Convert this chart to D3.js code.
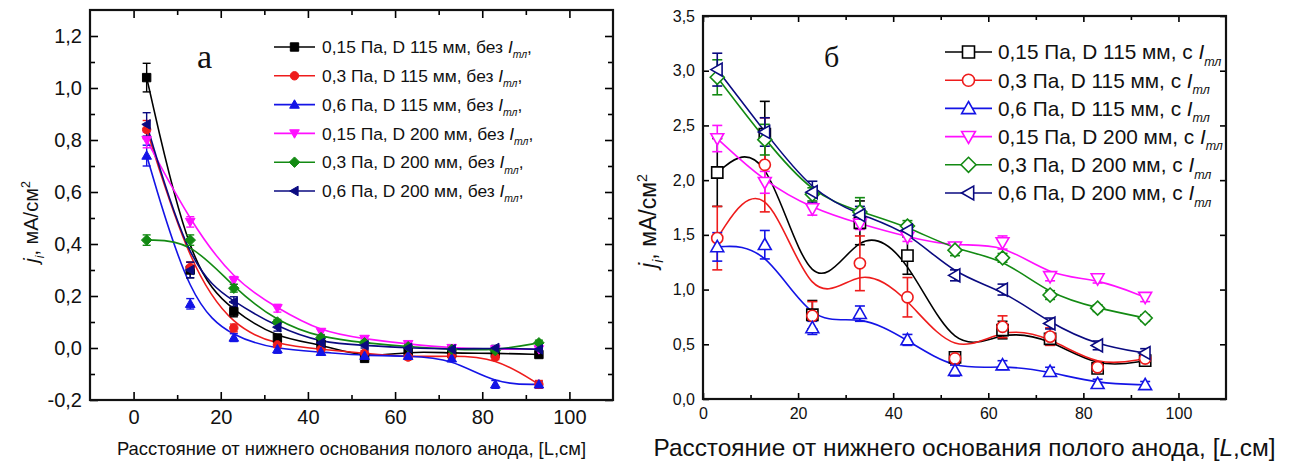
<!DOCTYPE html>
<html><head><meta charset="utf-8">
<script src="https://cdn.jsdelivr.net/npm/d3@7"></script>
<style>
html,body{margin:0;padding:0;background:#fff;}
svg{display:block;font-family:"Liberation Sans",Arial,sans-serif;}
</style></head><body>
<svg id="c" width="1290" height="463"></svg>
<script>
// ---------- DATA ----------
const distance = [3, 13, 23, 33, 43, 53, 63, 73, 83, 93];

// Panel "а" (without I_тл)
const labelsA = ["0,15 Па, D 115 мм, без ", "0,3 Па, D 115 мм, без ", "0,6 Па, D 115 мм, без ",
                 "0,15 Па, D 200 мм, без ", "0,3 Па, D 200 мм, без ", "0,6 Па, D 200 мм, без "];
const a_p015_D115 = [1.04, 0.30, 0.14, 0.038, 0.015, -0.04, -0.012, -0.02, -0.02, -0.025];
const a_p03_D115  = [0.84, 0.31, 0.077, 0.012, -0.005, -0.02, -0.035, -0.03, -0.035, -0.14];
const a_p06_D115  = [0.74, 0.17, 0.04, -0.005, -0.015, -0.03, -0.03, -0.04, -0.14, -0.14];
const a_p015_D200 = [0.80, 0.485, 0.26, 0.153, 0.062, 0.035, 0.015, 0.0, -0.005, -0.005];
const a_p03_D200  = [0.415, 0.415, 0.23, 0.10, 0.04, 0.02, 0.005, -0.005, -0.01, 0.02];
const a_p06_D200  = [0.86, 0.30, 0.177, 0.08, 0.02, 0.01, 0.0, -0.005, 0.0, -0.005];
const aErr_p015_D115 = [0.055, 0.03, 0.02, 0.015, 0.01, 0.01, 0.01, 0.01, 0.01, 0.01];
const aErr_p03_D115  = [0.035, 0.02, 0.015, 0.01, 0.01, 0.01, 0.01, 0.01, 0.01, 0.015];
const aErr_p06_D115  = [0.04, 0.02, 0.015, 0.015, 0.01, 0.01, 0.01, 0.01, 0.015, 0.01];
const aErr_p015_D200 = [0.03, 0.02, 0.015, 0.015, 0.01, 0.01, 0.01, 0.01, 0.01, 0.01];
const aErr_p03_D200  = [0.02, 0.02, 0.015, 0.01, 0.01, 0.01, 0.01, 0.01, 0.01, 0.01];
const aErr_p06_D200  = [0.045, 0.03, 0.02, 0.015, 0.01, 0.01, 0.01, 0.01, 0.01, 0.01];

// Panel "б" (with I_тл)
const labelsB = ["0,15 Па, D 115 мм, с ", "0,3 Па, D 115 мм, с ", "0,6 Па, D 115 мм, с ",
                 "0,15 Па, D 200 мм, с ", "0,3 Па, D 200 мм, с ", "0,6 Па, D 200 мм, с "];
const b_p015_D115 = [2.07, 2.42, 0.77, 1.61, 1.31, 0.38, 0.63, 0.55, 0.28, 0.35];
const b_p03_D115  = [1.47, 2.14, 0.76, 1.24, 0.93, 0.37, 0.66, 0.57, 0.29, 0.37];
const b_p06_D115  = [1.39, 1.41, 0.65, 0.78, 0.54, 0.26, 0.31, 0.25, 0.14, 0.13];
const b_p015_D200 = [2.38, 1.98, 1.74, 1.60, 1.48, 1.39, 1.43, 1.12, 1.10, 0.93];
const b_p03_D200  = [2.94, 2.37, 1.87, 1.71, 1.58, 1.36, 1.29, 0.95, 0.83, 0.74];
const b_p06_D200  = [3.01, 2.44, 1.89, 1.68, 1.54, 1.13, 1.00, 0.69, 0.49, 0.42];
const bErr_p015_D115 = [0.31, 0.30, 0.13, 0.2, 0.17, 0.05, 0.08, 0.05, 0.04, 0.04];
const bErr_p03_D115  = [0.29, 0.43, 0.13, 0.25, 0.18, 0.05, 0.10, 0.08, 0.04, 0.04];
const bErr_p06_D115  = [0.13, 0.13, 0.06, 0.07, 0.05, 0.05, 0.04, 0.04, 0.04, 0.03];
const bErr_p015_D200 = [0.12, 0.10, 0.06, 0.05, 0.04, 0.04, 0.06, 0.04, 0.04, 0.04];
const bErr_p03_D200  = [0.16, 0.14, 0.06, 0.13, 0.05, 0.05, 0.04, 0.04, 0.03, 0.03];
const bErr_p06_D200  = [0.15, 0.13, 0.10, 0.08, 0.05, 0.05, 0.05, 0.05, 0.04, 0.04];

const colors = ["#000000", "#ee1c1c", "#1414e6", "#ff10ff", "#138a13", "#0a0a80"];
const shapes = ["square", "circle", "up", "down", "diamond", "left"];

const xTicksMajor = [0, 20, 40, 60, 80, 100];
const xTicksMinor = [10, 30, 50, 70, 90];
const yTicksA = [-0.2, 0.0, 0.2, 0.4, 0.6, 0.8, 1.0, 1.2];
const yTicksAMinor = [-0.1, 0.1, 0.3, 0.5, 0.7, 0.9, 1.1];
const yTicksB = [0.0, 0.5, 1.0, 1.5, 2.0, 2.5, 3.0, 3.5];
const xTitle = "Расстояние от нижнего основания полого анода, [";

// ---------- HELPERS ----------
const svg = d3.select("#c");
const fmt = v => d3.format(".1f")(v).replace(".", ",").replace("−", "-");

function markerPath(shape, r) {
  switch (shape) {
    case "square": return `M${-r},${-r}H${r}V${r}H${-r}Z`;
    case "circle": return `M${r},0A${r},${r} 0 1,1 ${-r},0A${r},${r} 0 1,1 ${r},0Z`;
    case "up": { const h = r * 1.15; return `M0,${-h}L${h},${h * 0.75}L${-h},${h * 0.75}Z`; }
    case "down": { const h = r * 1.15; return `M0,${h}L${h},${-h * 0.75}L${-h},${-h * 0.75}Z`; }
    case "diamond": { const h = r * 1.25; return `M0,${-h}L${h},0L0,${h}L${-h},0Z`; }
    case "left": { const h = r * 1.15; return `M${-h},0L${h * 0.75},${-h}L${h * 0.75},${h}Z`; }
  }
}

function drawPanel(cfg) {
  const { x, y, series, errs, yTicks, yMinor, tickFont, major, minor, filled, mr, capW } = cfg;
  const [x0, x1] = x.range();
  const [y0, y1] = y.range(); // y0 bottom, y1 top
  const g = svg.append("g");

  const styleAxis = (sel) => {
    sel.select(".domain").remove();
    sel.selectAll("line").attr("stroke", "#000").attr("stroke-width", 1.6);
    sel.selectAll("text").attr("font-size", tickFont).attr("fill", "#111")
       .attr("font-family", "'Liberation Sans',Arial,sans-serif");
  };
  // bottom
  g.append("g").attr("transform", `translate(0,${y0})`)
    .call(d3.axisBottom(x).tickValues(xTicksMajor).tickSize(-major).tickPadding(cfg.xPad).tickFormat(d3.format("d")))
    .call(styleAxis);
  g.append("g").attr("transform", `translate(0,${y0})`)
    .call(d3.axisBottom(x).tickValues(xTicksMinor).tickSize(-minor).tickFormat(""))
    .call(styleAxis);
  // top
  g.append("g").attr("transform", `translate(0,${y1})`)
    .call(d3.axisTop(x).tickValues(xTicksMajor).tickSize(-major).tickFormat(""))
    .call(styleAxis);
  g.append("g").attr("transform", `translate(0,${y1})`)
    .call(d3.axisTop(x).tickValues(xTicksMinor).tickSize(-minor).tickFormat(""))
    .call(styleAxis);
  // left
  g.append("g").attr("transform", `translate(${x0},0)`)
    .call(d3.axisLeft(y).tickValues(yTicks).tickSize(-major).tickPadding(cfg.yPad).tickFormat(fmt))
    .call(styleAxis);
  // right
  g.append("g").attr("transform", `translate(${x1},0)`)
    .call(d3.axisRight(y).tickValues(yTicks).tickSize(-major).tickFormat(""))
    .call(styleAxis);
  if (yMinor) {
    g.append("g").attr("transform", `translate(${x0},0)`)
      .call(d3.axisLeft(y).tickValues(yMinor).tickSize(-minor).tickFormat("")).call(styleAxis);
    g.append("g").attr("transform", `translate(${x1},0)`)
      .call(d3.axisRight(y).tickValues(yMinor).tickSize(-minor).tickFormat("")).call(styleAxis);
  }

  const line = d3.line().x((d, i) => x(distance[i])).y(d => y(d)).curve(d3.curveBasis);
  const data = g.append("g");
  series.forEach((s, k) => {
    data.append("path").attr("d", line(s)).attr("fill", "none")
      .attr("stroke", colors[k]).attr("stroke-width", cfg.lw);
  });
  series.forEach((s, k) => {
    const eg = data.append("g").attr("stroke", colors[k]).attr("stroke-width", cfg.ew).attr("fill", "none");
    s.forEach((v, i) => {
      const e = errs[k][i];
      const cx = x(distance[i]);
      eg.append("line").attr("x1", cx).attr("x2", cx).attr("y1", y(v - e)).attr("y2", y(v + e));
      eg.append("line").attr("x1", cx - capW).attr("x2", cx + capW).attr("y1", y(v - e)).attr("y2", y(v - e));
      eg.append("line").attr("x1", cx - capW).attr("x2", cx + capW).attr("y1", y(v + e)).attr("y2", y(v + e));
    });
  });
  series.forEach((s, k) => {
    data.append("g").selectAll("path").data(s).join("path")
      .attr("transform", (d, i) => `translate(${x(distance[i])},${y(d)})`)
      .attr("d", markerPath(shapes[k], mr))
      .attr("fill", filled ? colors[k] : "#fff")
      .attr("stroke", colors[k]).attr("stroke-width", filled ? 1 : 1.6);
  });

  // frame
  g.append("rect").attr("x", x0).attr("y", y1).attr("width", x1 - x0).attr("height", y0 - y1)
    .attr("fill", "none").attr("stroke", "#111").attr("stroke-width", 2.2);

  // legend
  const lg = g.append("g");
  cfg.labels.forEach((lab, k) => {
    const ly = cfg.leg.y + k * cfg.leg.dy;
    lg.append("line").attr("x1", cfg.leg.x0).attr("x2", cfg.leg.x1).attr("y1", ly).attr("y2", ly)
      .attr("stroke", colors[k]).attr("stroke-width", cfg.lw);
    lg.append("path").attr("transform", `translate(${(cfg.leg.x0 + cfg.leg.x1) / 2},${ly})`)
      .attr("d", markerPath(shapes[k], cfg.leg.mr))
      .attr("fill", filled ? colors[k] : "#fff").attr("stroke", colors[k]).attr("stroke-width", filled ? 1 : 1.6);
    const t = lg.append("text").attr("x", cfg.leg.tx).attr("y", ly + cfg.leg.fs * 0.36)
      .attr("font-size", cfg.leg.fs).attr("fill", "#111");
    t.append("tspan").text(lab);
    t.append("tspan").attr("font-style", "italic").text("I");
    t.append("tspan").attr("font-style", "italic").attr("font-size", cfg.leg.fs * 0.6)
      .attr("dy", cfg.leg.fs * 0.3).text("тл");
    if (cfg.leg.comma) t.append("tspan").attr("dy", -cfg.leg.fs * 0.3).text(",");
  });

  // panel letter
  g.append("text").attr("x", cfg.letter.x).attr("y", cfg.letter.y)
    .attr("font-family", "'Liberation Serif','Times New Roman',serif")
    .attr("font-size", cfg.letter.fs).attr("fill", "#111").text(cfg.letter.t);

  // x title
  const xt = g.append("text").attr("x", (x0 + x1) / 2).attr("y", cfg.xTitleY)
    .attr("text-anchor", "middle").attr("font-size", cfg.xTitleFs).attr("fill", "#111");
  xt.append("tspan").text(xTitle);
  xt.append("tspan").attr("font-style", cfg.italicL ? "italic" : "normal").text("L");
  xt.append("tspan").text(",см]");

  // y title
  const yt = g.append("text")
    .attr("transform", `translate(${cfg.yTitle.x},${cfg.yTitle.y}) rotate(-90)`)
    .attr("text-anchor", "middle").attr("font-size", cfg.yTitle.fs).attr("fill", "#111");
  const fs = cfg.yTitle.fs;
  yt.append("tspan").attr("font-style", "italic").text("j");
  yt.append("tspan").attr("font-style", "italic").attr("font-size", fs * 0.62).attr("dy", fs * 0.3).text("i");
  yt.append("tspan").attr("dy", -fs * 0.3).text(", мА/см");
  yt.append("tspan").attr("font-size", fs * 0.62).attr("dy", -fs * 0.4).text("2");
}

// ---------- PANEL а ----------
drawPanel({
  x: d3.scaleLinear().domain([-10, 110]).range([90, 613]),
  y: d3.scaleLinear().domain([-0.2, 1.3]).range([400, 10]),
  series: [a_p015_D115, a_p03_D115, a_p06_D115, a_p015_D200, a_p03_D200, a_p06_D200],
  errs: [aErr_p015_D115, aErr_p03_D115, aErr_p06_D115, aErr_p015_D200, aErr_p03_D200, aErr_p06_D200],
  yTicks: yTicksA, yMinor: yTicksAMinor, tickFont: 20, major: 8, minor: 5,
  xPad: 10, yPad: 8, filled: true, mr: 4.2, capW: 4, lw: 1.6, ew: 1.4,
  labels: labelsA,
  leg: { x0: 274, x1: 315, tx: 322, y: 47, dy: 28.8, fs: 17.4, mr: 4.2, comma: true },
  letter: { x: 197, y: 68, fs: 34, t: "а" },
  xTitleY: 455, xTitleFs: 18.4, italicL: false,
  yTitle: { x: 38, y: 222, fs: 20 }
});

// ---------- PANEL б ----------
drawPanel({
  x: d3.scaleLinear().domain([0, 110]).range([703, 1226]),
  y: d3.scaleLinear().domain([0, 3.5]).range([399, 16]),
  series: [b_p015_D115, b_p03_D115, b_p06_D115, b_p015_D200, b_p03_D200, b_p06_D200],
  errs: [bErr_p015_D115, bErr_p03_D115, bErr_p06_D115, bErr_p015_D200, bErr_p03_D200, bErr_p06_D200],
  yTicks: yTicksB, yMinor: null, tickFont: 16, major: 6, minor: 4,
  xPad: 9, yPad: 8, filled: false, mr: 5.6, capW: 5, lw: 1.6, ew: 1.6,
  labels: labelsB,
  leg: { x0: 945, x1: 992, tx: 998, y: 52, dy: 28.2, fs: 20.8, mr: 6, comma: false },
  letter: { x: 824, y: 67, fs: 30, t: "б" },
  xTitleY: 456, xTitleFs: 24.4, italicL: true,
  yTitle: { x: 656, y: 221, fs: 23 }
});
</script>
</body></html>
